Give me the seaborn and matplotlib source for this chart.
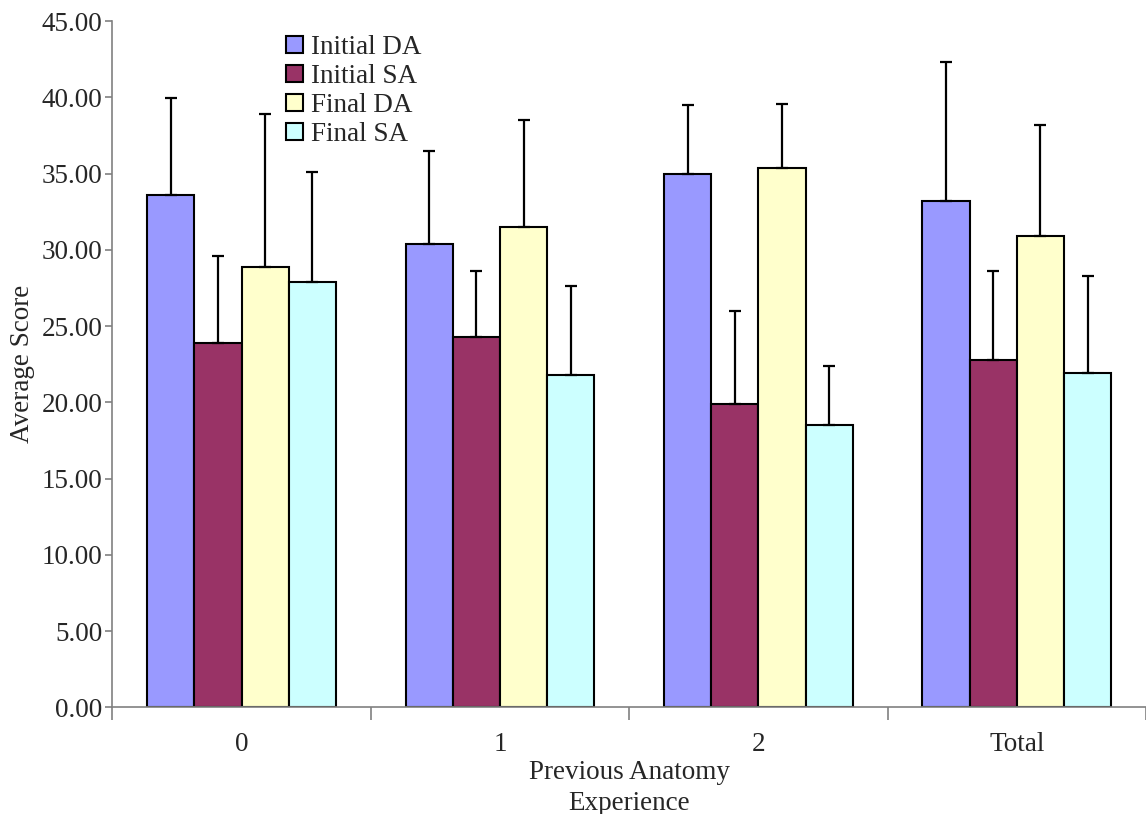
import matplotlib
matplotlib.use("Agg")
import matplotlib.pyplot as plt
from matplotlib.ticker import FixedLocator, FormatStrFormatter
import numpy as np
import pandas as pd
import seaborn as sns

groups = ["0", "1", "2", "Total"]
series = ["Initial DA", "Initial SA", "Final DA", "Final SA"]

initial_da = [33.6, 30.4, 35.0, 33.2]
initial_sa = [23.9, 24.3, 19.9, 22.8]
final_da = [28.9, 31.5, 35.4, 30.9]
final_sa = [27.9, 21.8, 18.5, 21.9]

initial_da_err = [6.35, 6.1, 4.5, 9.1]
initial_sa_err = [5.7, 4.3, 6.1, 5.8]
final_da_err = [10.0, 7.0, 4.2, 7.3]
final_sa_err = [7.2, 5.8, 3.9, 6.4]

colors = ["#9999FF", "#993366", "#FFFFCC", "#CCFFFF"]

values = [initial_da, initial_sa, final_da, final_sa]
errors = [initial_da_err, initial_sa_err, final_da_err, final_sa_err]

rows = []
for s, vals, errs in zip(series, values, errors):
    for g, v, e in zip(groups, vals, errs):
        rows.append({"Experience": g, "Series": s, "Score": v, "Err": e})
df = pd.DataFrame(rows)

sns.set_theme(style="white")
plt.rcParams["font.family"] = ["Liberation Serif", "DejaVu Serif"]

fig = plt.figure(figsize=(11.46, 8.14), dpi=100)
ax = fig.add_axes([0.098, 0.131, 0.902, 0.843])

sns.barplot(data=df, x="Experience", y="Score", hue="Series", order=groups,
            hue_order=series, palette=colors, errorbar=None, width=0.73,
            edgecolor="black", linewidth=1.5, saturation=1, ax=ax)

# plus-only error bars on top of each bar
for container, s in zip(ax.containers, series):
    sub = df[df["Series"] == s].set_index("Experience").loc[groups]
    xs = [p.get_x() + p.get_width() / 2 for p in container.patches]
    hs = [p.get_height() for p in container.patches]
    ax.errorbar(xs, hs, yerr=[np.zeros(len(xs)), sub["Err"].values],
                fmt="none", ecolor="black", elinewidth=1.6, capsize=4,
                capthick=1.6, zorder=3)

ax.set_ylim(0, 45)
ax.set_xlim(-0.5, 3.5)
ax.yaxis.set_major_locator(FixedLocator(np.arange(0, 46, 5)))
ax.yaxis.set_major_formatter(FormatStrFormatter("%.2f"))
ax.xaxis.set_minor_locator(FixedLocator(np.arange(-0.5, 3.6, 1)))

for side in ["top", "right"]:
    ax.spines[side].set_visible(False)
for side in ["left", "bottom"]:
    ax.spines[side].set_color("#808080")
    ax.spines[side].set_linewidth(1.2)

ax.tick_params(axis="y", which="major", direction="out", length=5, width=1.2,
               color="#808080", left=True, labelsize=19.5, pad=2)
ax.tick_params(axis="x", which="major", length=0, labelsize=19.5, pad=18)
ax.tick_params(axis="x", which="minor", direction="out", length=9, width=1.2,
               color="#808080", bottom=True)

ax.set_xlabel("Previous Anatomy\nExperience", fontsize=19.5, labelpad=2,
              linespacing=1.3)
ax.set_ylabel("Average Score", fontsize=19.5, labelpad=5)

leg = ax.legend(loc="upper left", bbox_to_anchor=(0.158, 0.996), frameon=False,
                fontsize=19.5, handlelength=0.6, handleheight=0.6,
                handletextpad=0.3, labelspacing=0.15, borderaxespad=0)

fig.savefig("out.png", dpi=100)
